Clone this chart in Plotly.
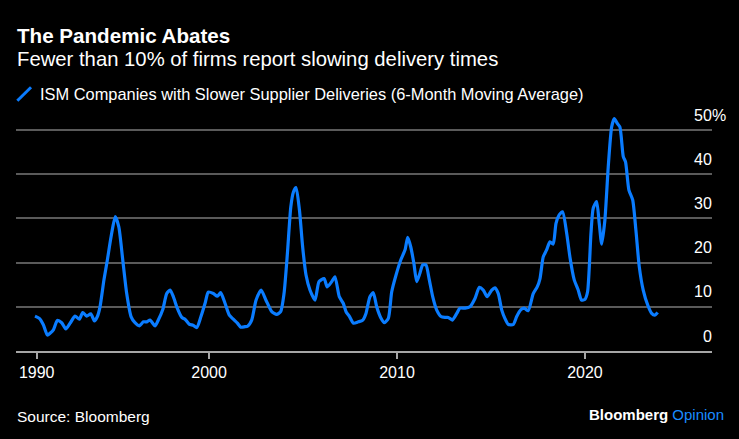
import plotly.graph_objects as go

# ---- data (decimal years, % of companies) ----
years = [
    1990.74, 1990.97, 1991.19, 1991.40, 1991.54, 1991.72, 1991.93, 1992.16, 1992.38, 1992.61,
    1992.87, 1993.10, 1993.28, 1993.49, 1993.71, 1993.90, 1994.06, 1994.20, 1994.41, 1994.59,
    1994.79, 1995.01, 1995.20, 1995.41, 1995.62, 1995.85, 1996.06, 1996.29, 1996.51, 1996.69,
    1996.86, 1997.13, 1997.30, 1997.54, 1997.75, 1997.93, 1998.10, 1998.31, 1998.55, 1998.72,
    1998.94, 1999.16, 1999.35, 1999.57, 1999.79, 1999.96, 2000.23, 2000.44, 2000.62, 2000.85,
    2001.08, 2001.29, 2001.51, 2001.69, 2001.91, 2002.05, 2002.27, 2002.50, 2002.77, 2003.03,
    2003.34, 2003.60, 2003.81, 2003.99, 2004.17, 2004.35, 2004.49, 2004.63, 2004.81, 2004.98,
    2005.16, 2005.37, 2005.64, 2005.85, 2006.12, 2006.29, 2006.53, 2006.70, 2006.93, 2007.14,
    2007.29, 2007.46, 2007.68, 2007.94, 2008.18, 2008.35, 2008.56, 2008.74, 2008.92, 2009.13,
    2009.33, 2009.54, 2009.72, 2009.95, 2010.20, 2010.43, 2010.57, 2010.73, 2010.90, 2011.05,
    2011.22, 2011.37, 2011.54, 2011.72, 2011.90, 2012.11, 2012.34, 2012.55, 2012.73, 2012.94,
    2013.18, 2013.35, 2013.62, 2013.88, 2014.15, 2014.38, 2014.59, 2014.80, 2015.04, 2015.21,
    2015.39, 2015.57, 2015.74, 2015.92, 2016.19, 2016.37, 2016.58, 2016.77, 2016.98, 2017.25,
    2017.46, 2017.61, 2017.78, 2017.96, 2018.14, 2018.31, 2018.46, 2018.63, 2018.81, 2019.03,
    2019.20, 2019.43, 2019.64, 2019.82, 2020.00, 2020.14, 2020.32, 2020.44, 2020.62, 2020.76,
    2020.89, 2021.06, 2021.24, 2021.42, 2021.56, 2021.72, 2021.86, 2022.04, 2022.16, 2022.34,
    2022.54, 2022.71, 2022.89, 2023.10, 2023.34, 2023.55, 2023.72, 2023.87,
]
slower_deliveries = [
    7.9, 7.4, 5.9, 3.6, 4.0, 4.8, 6.9, 6.4, 5.0, 6.3,
    7.9, 7.2, 8.7, 7.9, 8.4, 6.8, 7.8, 10.0, 16.1, 20.6,
    25.9, 30.4, 28.1, 20.6, 13.0, 7.8, 6.4, 5.7, 6.6, 6.6,
    7.0, 5.7, 7.0, 9.4, 13.0, 13.8, 12.3, 9.7, 7.6, 7.2,
    6.1, 5.8, 5.3, 7.8, 10.8, 13.3, 13.0, 12.4, 13.2, 10.8,
    8.1, 7.2, 6.3, 5.4, 5.5, 5.6, 7.0, 11.5, 13.8, 11.5,
    8.9, 8.3, 8.9, 13.0, 22.1, 32.6, 36.0, 37.0, 31.9, 23.6,
    17.2, 13.8, 11.5, 15.7, 16.4, 14.5, 15.7, 16.8, 12.3, 10.8,
    8.9, 7.9, 6.3, 6.6, 7.0, 8.5, 12.3, 13.2, 10.0, 7.6,
    6.4, 7.4, 13.4, 17.2, 20.6, 22.9, 25.7, 23.6, 19.8, 15.7,
    17.6, 19.5, 19.5, 16.1, 12.3, 9.3, 7.8, 7.6, 7.6, 7.0,
    8.5, 9.7, 9.7, 10.0, 11.9, 14.4, 13.8, 12.3, 13.8, 14.3,
    13.0, 9.3, 7.4, 6.0, 6.0, 7.8, 9.3, 9.7, 9.1, 13.0,
    14.5, 16.4, 21.3, 22.9, 24.7, 24.2, 28.9, 30.8, 31.5, 26.6,
    21.3, 16.1, 13.8, 11.5, 11.7, 13.4, 26.6, 32.3, 33.8, 28.9,
    24.2, 29.6, 41.7, 50.7, 52.6, 51.5, 50.7, 44.0, 42.8, 36.4,
    34.2, 27.4, 19.1, 13.8, 10.4, 8.5, 8.1, 8.7,
]

x_tick_positions = [1990.83, 2000, 2010, 2020]
x_tick_labels = ["1990", "2000", "2010", "2020"]
y_tick_values = [0, 10, 20, 30, 40, 50]
y_tick_labels = ["0", "10", "20", "30", "40", "50"]

title = "The Pandemic Abates"
subtitle = "Fewer than 10% of firms report slowing delivery times"
series_name = "ISM Companies with Slower Supplier Deliveries (6-Month Moving Average)"
source = "Source: Bloomberg"

BLUE = "#0a7cff"
FONT = "Liberation Sans"

fig = go.Figure()
fig.add_trace(go.Scatter(
    x=years, y=slower_deliveries, mode="lines", name=series_name,
    line=dict(color=BLUE, width=3.2, shape="spline", smoothing=0.6),
    hoverinfo="skip", showlegend=False,
))

annotations = [
    dict(text=f"<b>{title}</b>", x=0, y=1.300, xref="paper", yref="paper",
         xanchor="left", yanchor="middle", showarrow=False,
         font=dict(family=FONT, size=20.6, color="white"), xshift=-1),
    dict(text=subtitle, x=0, y=1.202, xref="paper", yref="paper",
         xanchor="left", yanchor="middle", showarrow=False,
         font=dict(family=FONT, size=20.3, color="white"), xshift=-1),
    dict(text=series_name, x=0.0316, y=1.0576, xref="paper", yref="paper",
         xanchor="left", yanchor="middle", showarrow=False,
         font=dict(family=FONT, size=16.4, color="white")),
    dict(text=source, x=0, y=-0.2716, xref="paper", yref="paper",
         xanchor="left", yanchor="middle", showarrow=False,
         font=dict(family=FONT, size=15.5, color="white"), xshift=-1),
    dict(text="<b>Bloomberg</b> <span style='color:#1a8cff'>Opinion</span>",
         x=1.0197, y=-0.263, xref="paper", yref="paper",
         xanchor="right", yanchor="middle", showarrow=False,
         font=dict(family=FONT, size=15, color="white")),
]
for v, lab in zip(y_tick_values, y_tick_labels):
    annotations.append(dict(
        text=lab, x=1, y=v, xref="paper", yref="y", xanchor="right", yanchor="middle",
        yshift=15, showarrow=False, font=dict(family=FONT, size=16, color="white"),
        xshift=2,
    ))
annotations.append(dict(
    text="%", x=1, y=y_tick_values[-1], xref="paper", yref="y", xanchor="left",
    yanchor="middle", yshift=15, showarrow=False,
    font=dict(family=FONT, size=16, color="white"), xshift=-2,
))

fig.update_layout(
    width=739, height=439,
    paper_bgcolor="black", plot_bgcolor="black",
    margin=dict(l=16, r=27, t=108, b=88),
    showlegend=False,
    annotations=annotations,
    shapes=[dict(type="line", xref="paper", yref="paper",
                 x0=0.0019, y0=1.030, x1=0.0216, y1=1.0852,
                 line=dict(color=BLUE, width=3))],
    xaxis=dict(
        range=[1989.73, 2026.76], tickvals=x_tick_positions, ticktext=x_tick_labels,
        showgrid=False, zeroline=False, showline=True, linecolor="#a6a6a6", linewidth=1.5,
        ticks="outside", ticklen=6, tickcolor="#a6a6a6", tickwidth=1.5,
        tickfont=dict(family=FONT, size=16, color="white"),
    ),
    yaxis=dict(
        range=[0, 55], tickvals=y_tick_values, showticklabels=False,
        showgrid=True, gridcolor="#5a5a5a", gridwidth=1.5, zeroline=False,
        fixedrange=True,
    ),
)

fig.write_html(
    "out.html",
    config={"displayModeBar": False},
    post_script=(
        "document.body.style.margin='0';document.body.style.padding='0';"
        "document.body.style.overflow='hidden';"
        "document.body.style.background='black';"
    ),
)
